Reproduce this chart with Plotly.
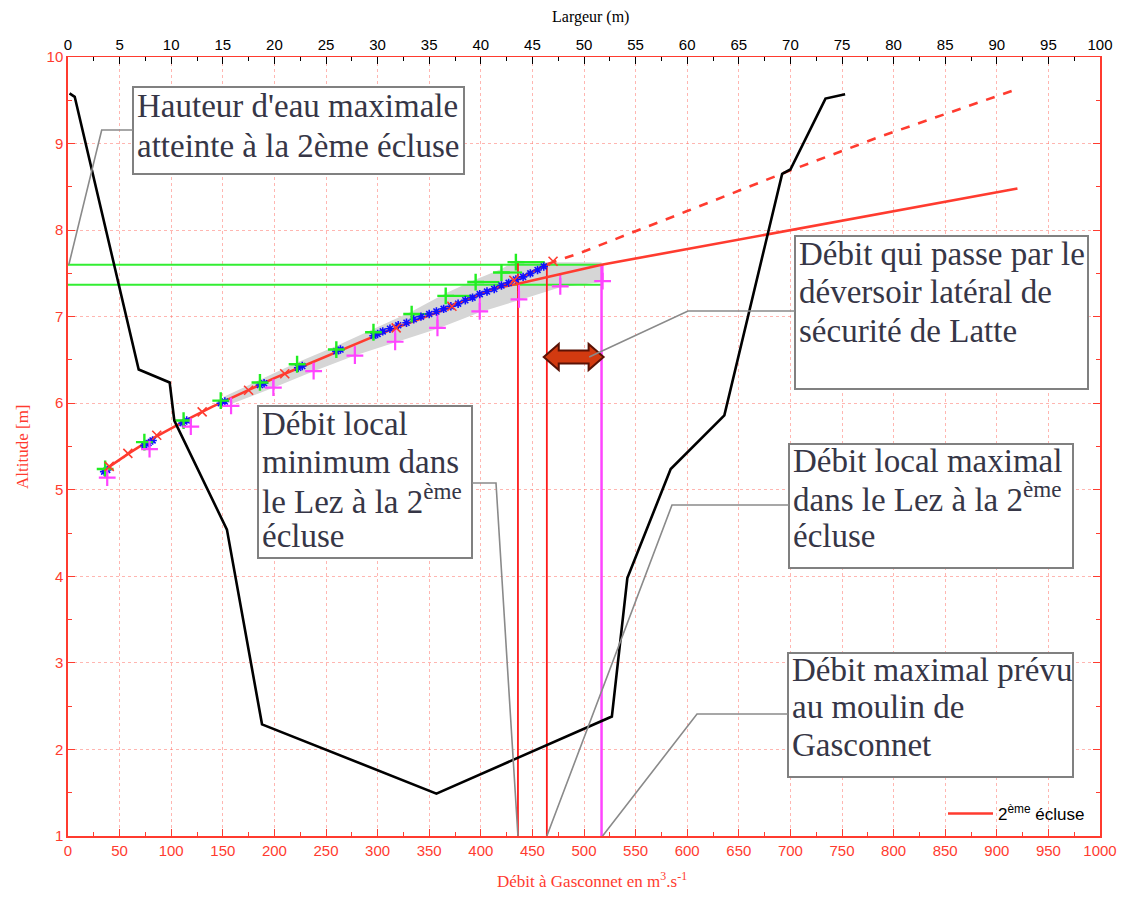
import plotly.graph_objects as go

# ---------------- data ----------------
# cross-section of the river (top axis: Largeur in m)
profile_largeur = [0.15, 0.65, 6.85, 9.85, 10.3, 15.4, 18.8, 35.7, 52.7, 54.2, 58.4, 63.6, 69.2, 70.0, 73.4, 75.3]
profile_alt = [9.58, 9.54, 6.39, 6.24, 5.80, 4.54, 2.29, 1.49, 2.38, 3.98, 5.24, 5.86, 8.65, 8.70, 9.52, 9.57]

# rating curve "2ème écluse" (bottom axis: Débit in m3/s)
curve_q = [38, 45, 60, 80, 100, 120, 140, 160, 180, 200, 220, 240, 260, 280, 300, 320, 340, 360, 380, 400, 420, 440, 465]
curve_alt = [5.25, 5.31, 5.43, 5.58, 5.71, 5.84, 5.96, 6.07, 6.18, 6.29, 6.39, 6.49, 6.59, 6.69, 6.79, 6.88, 6.97,
             7.06, 7.16, 7.26, 7.36, 7.46, 7.61]
branch_q = [415, 436, 517, 600, 700, 787, 920]
branch_alt = [7.33, 7.38, 7.60, 7.78, 8.00, 8.19, 8.48]
dash_q = [465, 497, 600, 700, 787, 920]
dash_alt = [7.61, 7.74, 8.22, 8.69, 9.08, 9.63]

# red x markers on the curve
xmark_q = [40, 58, 86, 130, 175, 210, 318, 372, 432, 470]
xmark_alt = [5.27, 5.42, 5.63, 5.90, 6.15, 6.34, 6.87, 7.12, 7.42, 7.64]

# blue observations
blue_q = [35, 38, 74, 78, 82, 111, 115, 148, 152, 186, 190, 223, 227, 260, 264, 296, 300, 305, 312, 320, 328, 335,
          342, 350, 357, 364, 371, 378, 385, 392, 399, 406, 413, 420, 427, 434, 441, 448, 455, 461]
blue_alt = [5.21, 5.23, 5.51, 5.54, 5.57, 5.77, 5.80, 6.00, 6.02, 6.21, 6.23, 6.41, 6.43, 6.60, 6.62, 6.78, 6.80, 6.83,
            6.86, 6.90, 6.93, 6.97, 7.00, 7.03, 7.06, 7.09, 7.12, 7.15, 7.19, 7.22, 7.26, 7.29, 7.32, 7.36, 7.39, 7.43,
            7.46, 7.50, 7.54, 7.58]

# green points (horizontal deviation to the curve)
green_q = [36, 74, 112, 148, 186, 222, 260, 296, 333, 366, 395, 420, 434]
green_q_end = [38, 80, 115, 153, 191, 230, 264, 304, 352, 393, 418, 440, 462]
green_alt = [5.24, 5.55, 5.80, 6.03, 6.24, 6.45, 6.62, 6.82, 7.03, 7.24, 7.40, 7.51, 7.63]

# magenta points (vertical deviation to the curve)
mag_q = [38, 79, 119, 158, 199, 238, 278, 317, 358, 399, 437, 477, 518]
mag_lo = [5.14, 5.47, 5.73, 5.97, 6.18, 6.37, 6.55, 6.71, 6.87, 7.06, 7.20, 7.35, 7.41]
mag_hi = [5.25, 5.58, 5.82, 6.03, 6.29, 6.48, 6.66, 6.86, 7.06, 7.26, 7.38, 7.49, 7.60]

# uncertainty band
band_q = [150, 186, 222, 260, 296, 333, 366, 395, 420, 434, 465, 517,
          517, 477, 437, 399, 358, 317, 278, 238, 199, 158]
band_alt = [6.07, 6.27, 6.47, 6.66, 6.86, 7.06, 7.27, 7.43, 7.55, 7.65, 7.63, 7.63,
            7.40, 7.34, 7.19, 7.05, 6.86, 6.70, 6.55, 6.37, 6.18, 5.99]

# reference levels / discharges
h_max = 7.60
h_low = 7.37
q_local_min = 436
q_local_max = 464
q_max_moulin = 517
alt_bottom = 1.0

# ---------------- style ----------------
RED = "#ff3b2f"
GRID = "rgba(255,110,100,0.5)"
TXT = "#363646"
BOXC = "#808080"
GREEN = "#22ee22"
MAG = "#ff44ff"
BLUE = "#1010ff"

fig = go.Figure()

# grey band
fig.add_trace(go.Scatter(x=band_q, y=band_alt, fill="toself", fillcolor="#d6d6d6",
                         line=dict(width=0), mode="lines", showlegend=False, hoverinfo="skip"))

# green horizontal levels
for h in (h_max, h_low):
    fig.add_trace(go.Scatter(x=[0, q_max_moulin], y=[h, h], mode="lines",
                             line=dict(color="#33ee33", width=2), showlegend=False))

# vertical discharge lines
fig.add_trace(go.Scatter(x=[q_local_min, q_local_min], y=[alt_bottom, h_max + 0.03], mode="lines",
                         line=dict(color="#ff1a1a", width=1.8), showlegend=False))
fig.add_trace(go.Scatter(x=[q_local_max, q_local_max], y=[alt_bottom, h_max], mode="lines",
                         line=dict(color="#ff1a1a", width=1.8), showlegend=False))
fig.add_trace(go.Scatter(x=[q_max_moulin, q_max_moulin], y=[alt_bottom, h_max], mode="lines",
                         line=dict(color=MAG, width=2.5), showlegend=False))

# green horizontal deviation bars
gx, gy = [], []
for a, b, h in zip(green_q, green_q_end, green_alt):
    gx += [a, b, None]
    gy += [h, h, None]
fig.add_trace(go.Scatter(x=gx, y=gy, mode="lines", line=dict(color=GREEN, width=2.2), showlegend=False))

# magenta vertical deviation bars
mx, my = [], []
for q, lo, hi in zip(mag_q, mag_lo, mag_hi):
    mx += [q, q, None]
    my += [lo, hi, None]
fig.add_trace(go.Scatter(x=mx, y=my, mode="lines", line=dict(color=MAG, width=2), showlegend=False))

# curves
fig.add_trace(go.Scatter(x=dash_q, y=dash_alt, mode="lines", line=dict(color=RED, width=2.6, dash="dash"),
                         showlegend=False))
fig.add_trace(go.Scatter(x=branch_q, y=branch_alt, mode="lines", line=dict(color=RED, width=2.6),
                         name="2<sup>ème</sup> écluse", showlegend=True))
fig.add_trace(go.Scatter(x=curve_q, y=curve_alt, mode="lines", line=dict(color=RED, width=2.6),
                         showlegend=False))

# markers (open symbols are stroked with marker.color)
fig.add_trace(go.Scatter(x=blue_q, y=blue_alt, mode="markers",
                         marker=dict(symbol="asterisk-open", size=7, color=BLUE, line=dict(color=BLUE, width=1.6)),
                         showlegend=False))
fig.add_trace(go.Scatter(x=green_q, y=green_alt, mode="markers",
                         marker=dict(symbol="cross-thin-open", size=12, color=GREEN,
                                     line=dict(color=GREEN, width=2.4)),
                         showlegend=False))
fig.add_trace(go.Scatter(x=mag_q, y=mag_lo, mode="markers",
                         marker=dict(symbol="cross-thin-open", size=12, color=MAG, line=dict(color=MAG, width=2.2)),
                         showlegend=False))
fig.add_trace(go.Scatter(x=xmark_q, y=xmark_alt, mode="markers",
                         marker=dict(symbol="x-thin-open", size=9, color=RED, line=dict(color=RED, width=1.6)),
                         showlegend=False))

# river cross-section on the top axis
fig.add_trace(go.Scatter(x=profile_largeur, y=profile_alt, mode="lines", xaxis="x2", yaxis="y",
                         line=dict(color="black", width=2.6), showlegend=False))

# ---------------- geometry helpers (page pixel -> data) ----------------
# the page body has an 8px margin, so the figure is drawn 8px right / down
OFF = 8
W, H = 1125 - OFF, 897 - OFF
PX0, PX1, PY0, PY1 = 68, 1100, 57, 836          # plot area in page pixels
ML, MT = PX0 - OFF, PY0 - OFF
MR, MB = (OFF + W) - PX1, (OFF + H) - PY1
PW, PH = PX1 - PX0, PY1 - PY0


def qx(px):
    return (px - PX0) / PW * 1000.0


def ay(py):
    return 10.0 - (py - PY0) / PH * 9.0


def paper_x(px):
    return (px - PX0) / PW


def paper_y(py):
    return (PY1 - py) / PH


shapes = []

# double arrow between local max discharge and moulin max discharge
alt_arrow = ay(357)
head_l = qx(PX0 + 15) - qx(PX0)
head_h = 9.0 * 13 / PH
shaft_h = 9.0 * 6.5 / PH
x0, x1 = q_local_max - 3, q_max_moulin + 2
path = (f"M {x0},{alt_arrow} L {x0 + head_l},{alt_arrow + head_h} L {x0 + head_l},{alt_arrow + shaft_h} "
        f"L {x1 - head_l},{alt_arrow + shaft_h} L {x1 - head_l},{alt_arrow + head_h} L {x1},{alt_arrow} "
        f"L {x1 - head_l},{alt_arrow - head_h} L {x1 - head_l},{alt_arrow - shaft_h} "
        f"L {x0 + head_l},{alt_arrow - shaft_h} L {x0 + head_l},{alt_arrow - head_h} Z")
shapes.append(dict(type="path", xref="x", yref="y", path=path, fillcolor="#d23a10",
                   line=dict(color="#5a1205", width=2), layer="above"))

# callouts: box (px), text lines, baselines (px), text x (px), leader knee (px), target (data)
callouts = [
    dict(box=(133, 87, 464, 174), lines=["Hauteur d'eau maximale", "atteinte à la 2ème écluse"],
         base=[117, 157], tx=135, knee=[(133, 130), (101.7, 130)], target=(0.8, h_max)),
    dict(box=(795, 236, 1088, 389), lines=["Débit qui passe par le", "déversoir latéral de", "sécurité de Latte"],
         base=[265, 303, 342], tx=797, knee=[(795, 311), (688, 311)], target=(q_max_moulin - 12, alt_arrow)),
    dict(box=(258, 406, 472, 558),
         lines=["Débit local", "minimum dans", "le Lez à la 2<sup>ème</sup>", "écluse"],
         base=[435, 473, 510, 547], tx=260, knee=[(472, 483), (496, 483)], target=(q_local_min, alt_bottom)),
    dict(box=(789, 444, 1073, 568), lines=["Débit local maximal", "dans le Lez à la 2<sup>ème</sup>", "écluse"],
         base=[472, 508, 547], tx=791, knee=[(789, 505), (672, 505)], target=(q_local_max, alt_bottom)),
    dict(box=(788, 653, 1073, 777), lines=["Débit maximal prévu", "au moulin de", "Gasconnet"],
         base=[681, 718, 756], tx=790, knee=[(788, 714), (697, 714)], target=(q_max_moulin + 1, alt_bottom)),
]

annotations = []
FS = 33
for c in callouts:
    bx0, by0, bx1, by1 = c["box"]
    shapes.append(dict(type="rect", xref="x", yref="y", x0=qx(bx0), x1=qx(bx1), y0=ay(by1), y1=ay(by0),
                       line=dict(color=BOXC, width=2), fillcolor="white", layer="above"))
    pts = [(qx(p[0]), ay(p[1])) for p in c["knee"]] + [c["target"]]
    p = "M " + " L ".join(f"{x},{y}" for x, y in pts)
    shapes.append(dict(type="path", xref="x", yref="y", path=p, line=dict(color="#8a8a8a", width=1.6),
                       layer="above"))
    for t, b in zip(c["lines"], c["base"]):
        annotations.append(dict(xref="x", yref="y", x=qx(c["tx"]), y=ay(b - 0.34 * FS), text=t,
                                showarrow=False, xanchor="left", yanchor="middle",
                                font=dict(family="Liberation Serif", size=FS, color=TXT)))

# axis titles
annotations.append(dict(xref="paper", yref="paper", x=paper_x(590), y=paper_y(17), text="Largeur (m)",
                        showarrow=False, xanchor="center", yanchor="middle",
                        font=dict(family="Liberation Serif", size=16, color="black")))
annotations.append(dict(xref="paper", yref="paper", x=paper_x(592), y=paper_y(880),
                        text="Débit à Gasconnet en m<sup>3</sup>.s<sup>-1</sup>",
                        showarrow=False, xanchor="center", yanchor="middle",
                        font=dict(family="Liberation Serif", size=17, color=RED)))
annotations.append(dict(xref="paper", yref="paper", x=paper_x(22), y=paper_y(447), text="Altitude [m]",
                        showarrow=False, xanchor="center", yanchor="middle", textangle=-90,
                        font=dict(family="Liberation Serif", size=17, color=RED)))

fig.update_layout(
    width=W, height=H,
    margin=dict(l=ML, r=MR, t=MT, b=MB),
    plot_bgcolor="white", paper_bgcolor="white",
    shapes=shapes, annotations=annotations,
    xaxis=dict(range=[0, 1000], dtick=50, tick0=0, showgrid=True, gridcolor=GRID, griddash="dot", gridwidth=1,
               ticks="inside", ticklen=7, tickcolor=RED, showline=True, linecolor=RED, linewidth=1.5,
               tickfont=dict(family="Liberation Sans", size=15, color=RED), zeroline=False, automargin=False,
               minor=dict(dtick=25, ticks="inside", ticklen=4, tickcolor=RED, showgrid=False)),
    xaxis2=dict(range=[0, 100], dtick=5, tick0=0, overlaying="x", side="top", showgrid=False,
                ticks="inside", ticklen=7, tickcolor="black", showline=True, linecolor=RED, linewidth=1,
                tickfont=dict(family="Liberation Sans", size=15, color="black"), zeroline=False, automargin=False,
                minor=dict(dtick=2.5, ticks="inside", ticklen=4, tickcolor="black")),
    yaxis=dict(range=[1, 10], dtick=1, tick0=0, showgrid=True, gridcolor=GRID, griddash="dot", gridwidth=1,
               ticks="inside", ticklen=7, tickcolor=RED, showline=True, linecolor=RED, linewidth=1.5,
               mirror="ticks", tickfont=dict(family="Liberation Sans", size=15, color=RED), zeroline=False,
               automargin=False, minor=dict(dtick=0.5, ticks="inside", ticklen=4, tickcolor=RED, showgrid=False)),
    legend=dict(x=paper_x(1090), xanchor="right", y=paper_y(832), yanchor="bottom", bgcolor="rgba(255,255,255,0)",
                itemwidth=45, font=dict(family="Liberation Sans", size=17, color="black")),
)

fig.write_html("out.html")
